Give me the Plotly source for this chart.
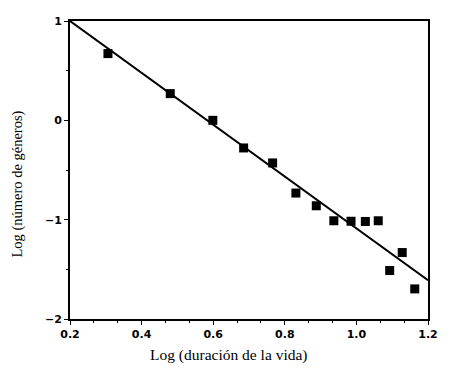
import plotly.graph_objects as go

# Data
log_duracion = [0.306, 0.480, 0.599, 0.685, 0.766, 0.831, 0.888, 0.937, 0.985, 1.025, 1.061, 1.093, 1.128, 1.163]
log_generos = [0.672, 0.269, 0.0, -0.278, -0.429, -0.732, -0.860, -1.011, -1.016, -1.018, -1.011, -1.512, -1.331, -1.697]
fit_x = [0.2, 1.2]
fit_y = [1.0, -1.61]

x_tickvals = [0.2, 0.4, 0.6, 0.8, 1.0, 1.2]
x_ticktext = ["0.2", "0.4", "0.6", "0.8", "1.0", "1.2"]
y_tickvals = [1, 0, -1, -2]
y_ticktext = ["1", "0", "−1", "−2"]

fig = go.Figure()
fig.add_trace(go.Scatter(x=fit_x, y=fit_y, mode="lines",
                         line=dict(color="black", width=2), showlegend=False))
fig.add_trace(go.Scatter(x=log_duracion, y=log_generos, mode="markers",
                         marker=dict(symbol="square", size=9, color="black"),
                         showlegend=False))

tickfont = dict(family="DejaVu Sans", size=11, color="black", weight="bold")

fig.update_xaxes(range=[0.2, 1.2], tickvals=x_tickvals, ticktext=x_ticktext,
                 ticks="outside", ticklen=4, tickwidth=1.2, tickcolor="black",
                 minor=dict(tick0=0.2, dtick=0.2 / 3, ticks="outside", ticklen=2, tickcolor="black"),
                 showline=True, linecolor="black", linewidth=2, mirror=True,
                 showgrid=False, zeroline=False, tickfont=tickfont)
fig.update_yaxes(range=[-2, 1], tickvals=y_tickvals, ticktext=y_ticktext,
                 ticks="outside", ticklen=4, tickwidth=1.2, tickcolor="black",
                 minor=dict(tick0=0, dtick=0.5, ticks="outside", ticklen=2, tickcolor="black"),
                 showline=True, linecolor="black", linewidth=2, mirror=True,
                 showgrid=False, zeroline=False, tickfont=tickfont)

xtitlefont = dict(family="Liberation Serif", size=15.5, color="black")
ytitlefont = dict(family="Liberation Serif", size=14.5, color="black")
fig.update_layout(
    width=450, height=374,
    margin=dict(l=70, r=18, t=21, b=55),
    paper_bgcolor="white", plot_bgcolor="white",
    annotations=[
        dict(text="Log (duración de la vida)", xref="paper", yref="paper",
             x=(231 - 70) / 362, y=-(355 - 319) / 298, xanchor="center", yanchor="middle",
             showarrow=False, font=xtitlefont),
        dict(text="Log (número de géneros)", xref="paper", yref="paper",
             x=-(70 - 16) / 362, y=(319 - 184) / 298, xanchor="center", yanchor="middle",
             textangle=-90, showarrow=False, font=ytitlefont),
    ],
)

fig.write_html("out.html", config={"displayModeBar": False})
with open("out.html", encoding="utf-8") as f:
    html = f.read()
html = html.replace("<head>", "<head><style>html,body{margin:0;padding:0;overflow:hidden}</style>", 1)
with open("out.html", "w", encoding="utf-8") as f:
    f.write(html)
